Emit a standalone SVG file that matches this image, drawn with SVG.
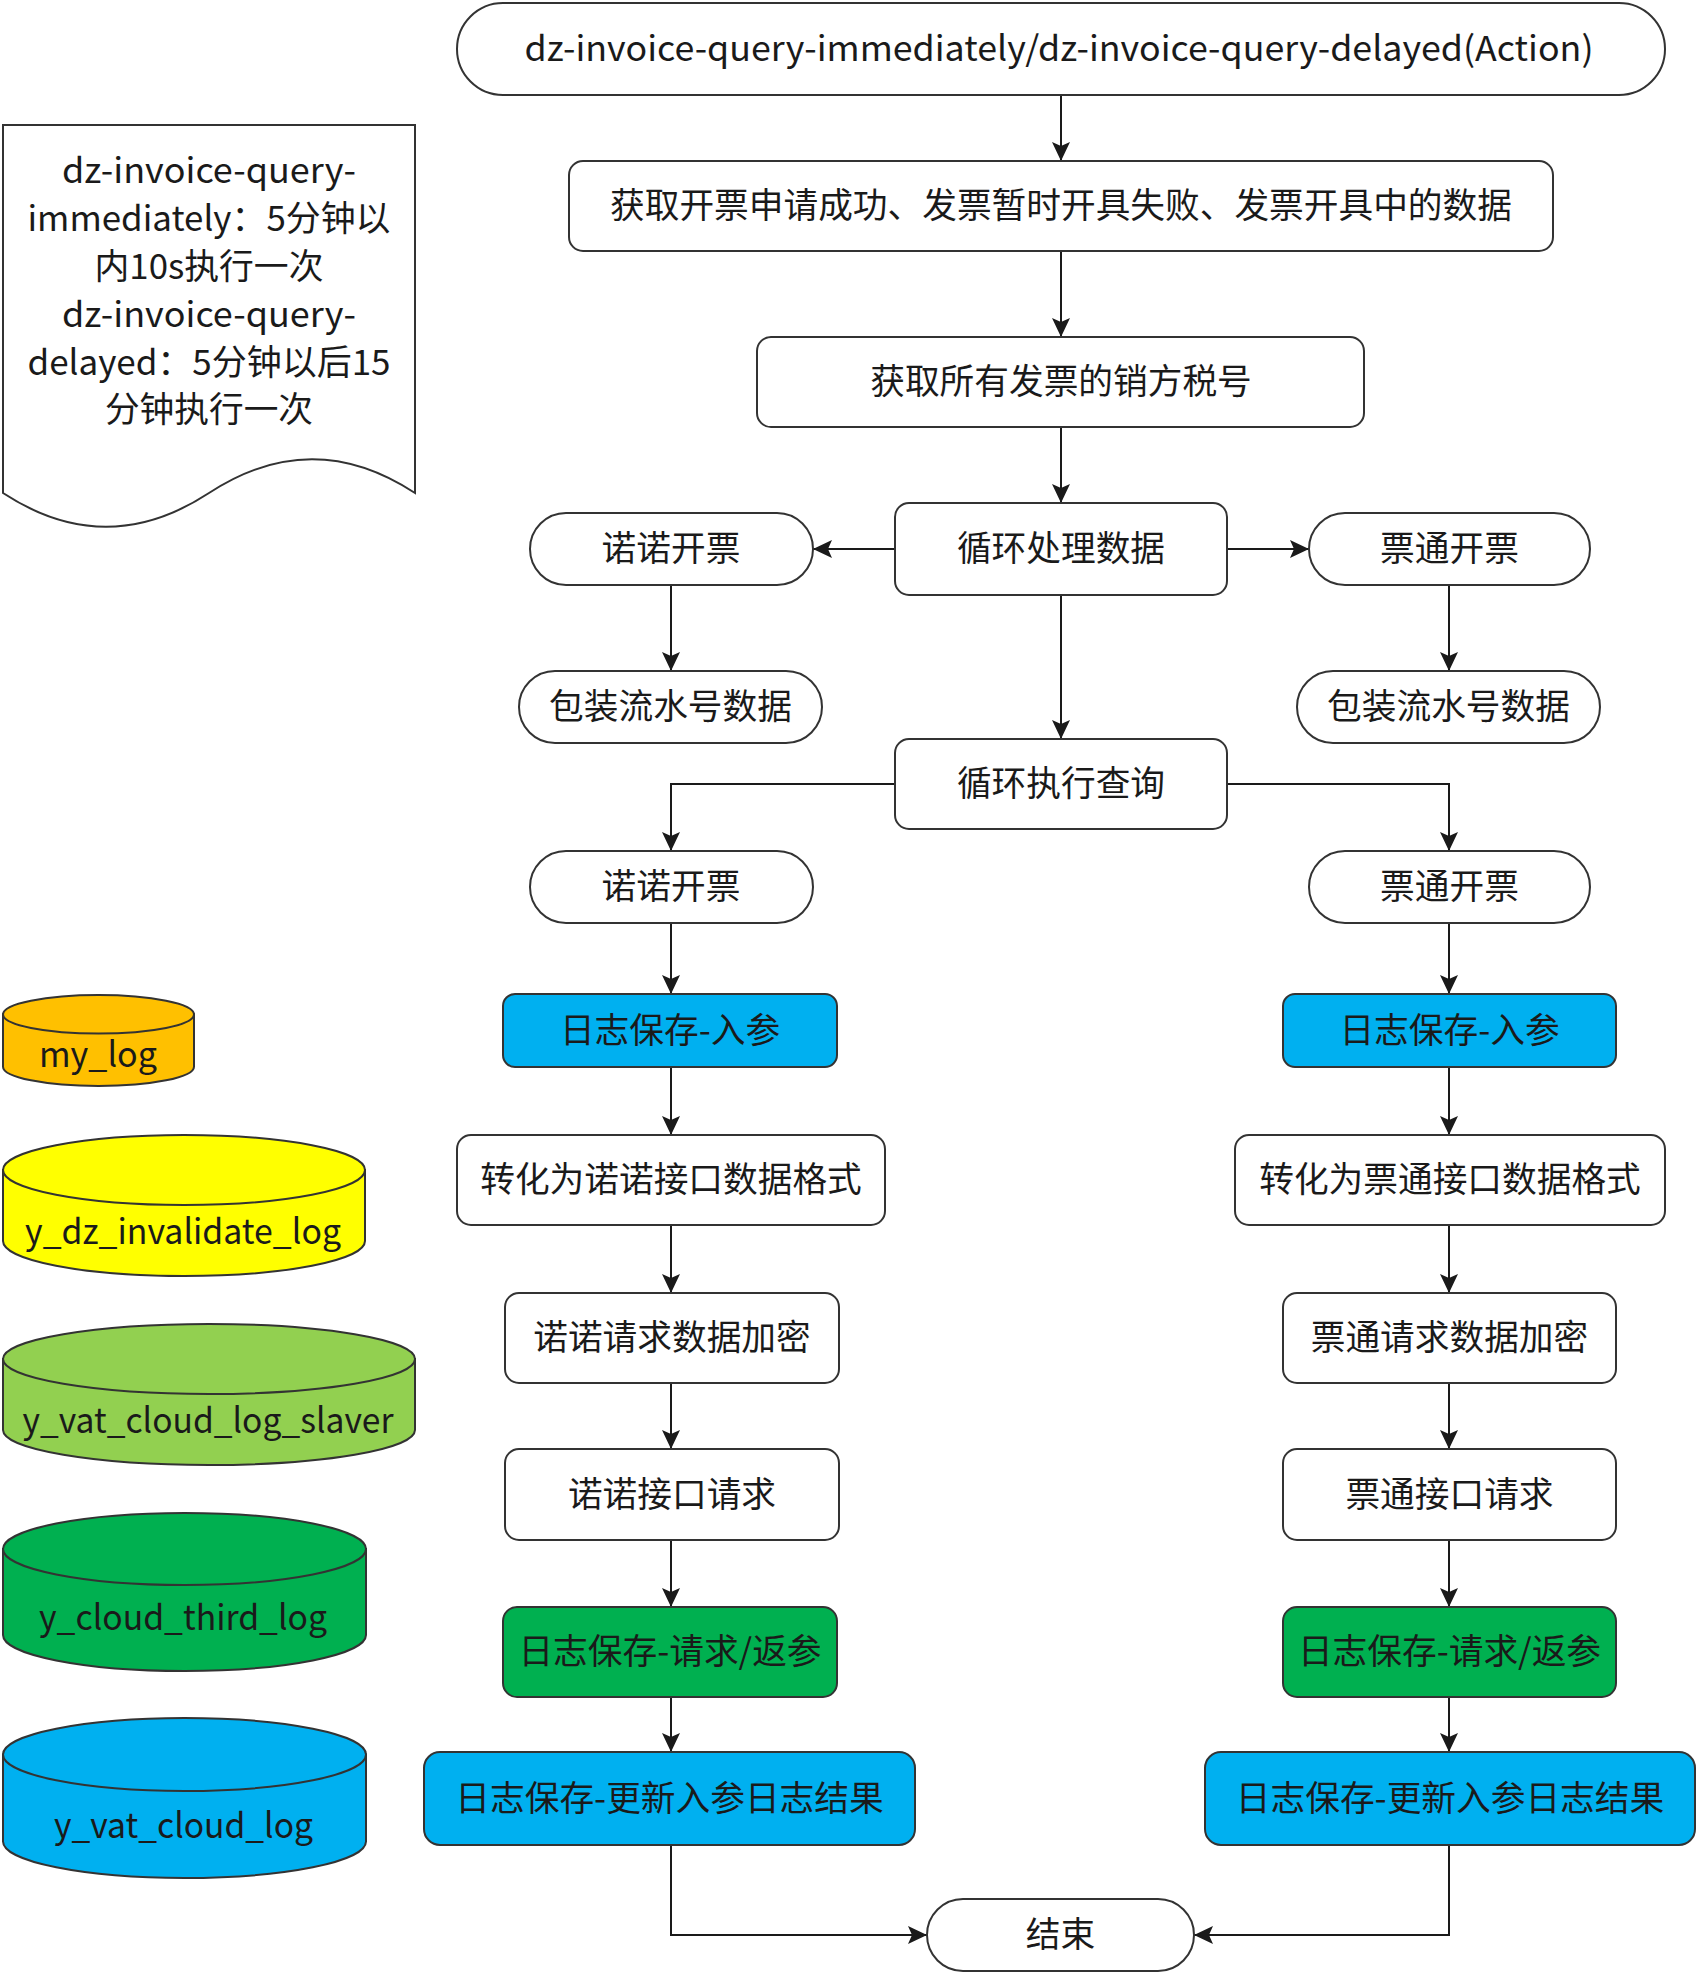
<svg xmlns="http://www.w3.org/2000/svg" width="1696" height="1974" viewBox="0 0 1696 1974">
<style>
text{font-family:"Noto Sans CJK SC","Noto Sans",sans-serif;font-size:34.7px;fill:#1a1a1a;text-anchor:middle}
.n{fill:#fff;stroke:#333;stroke-width:2}
.blue{fill:#00B0F0;stroke:#333;stroke-width:2}
.green{fill:#00B050;stroke:#333;stroke-width:2}
.c{fill:none;stroke:#1a1a1a;stroke-width:2}
</style>
<defs>
<marker id="a" markerUnits="userSpaceOnUse" markerWidth="20" markerHeight="18" refX="19" refY="9" orient="auto">
<path d="M0,0 L19,9 L0,18 L4,9 Z" fill="#1a1a1a"/>
</marker>
</defs>
<rect width="1696" height="1974" fill="#fff"/>

<g id="note">
<path d="M3,125 H415 V493 Q312,425.5 209,493 Q106,560.5 3,493 Z" class="n"/>
<text x="209" y="183" textLength="294" lengthAdjust="spacingAndGlyphs">dz-invoice-query-</text>
<text x="209" y="231" textLength="363" lengthAdjust="spacingAndGlyphs">immediately：5分钟以</text>
<text x="209" y="279" textLength="229" lengthAdjust="spacingAndGlyphs">内10s执行一次</text>
<text x="209" y="327" textLength="294" lengthAdjust="spacingAndGlyphs">dz-invoice-query-</text>
<text x="209" y="375" textLength="363" lengthAdjust="spacingAndGlyphs">delayed：5分钟以后15</text>
<text x="209" y="422">分钟执行一次</text>
</g>

<g id="db-my_log">
<path d="M3,1014.3 V1066.7 A95.5,19.3 0 0 0 194,1066.7 V1014.3 Z" fill="#FFC000" stroke="#333" stroke-width="2"/>
<ellipse cx="98.5" cy="1014.3" rx="95.5" ry="19.3" fill="#FFC000" stroke="#333" stroke-width="2"/>
<text x="98" y="1067" textLength="118" lengthAdjust="spacingAndGlyphs">my_log</text>
</g>
<g id="db-y_dz_invalidate_log">
<path d="M3,1170 V1241 A181,35 0 0 0 365,1241 V1170 Z" fill="#FFFF00" stroke="#333" stroke-width="2"/>
<ellipse cx="184" cy="1170" rx="181" ry="35" fill="#FFFF00" stroke="#333" stroke-width="2"/>
<text x="183" y="1244" textLength="316" lengthAdjust="spacingAndGlyphs">y_dz_invalidate_log</text>
</g>
<g id="db-y_vat_cloud_log_slaver">
<path d="M3,1359 V1430 A206,35 0 0 0 415,1430 V1359 Z" fill="#92D050" stroke="#333" stroke-width="2"/>
<ellipse cx="209" cy="1359" rx="206" ry="35" fill="#92D050" stroke="#333" stroke-width="2"/>
<text x="208" y="1433" textLength="371" lengthAdjust="spacingAndGlyphs">y_vat_cloud_log_slaver</text>
</g>
<g id="db-y_cloud_third_log">
<path d="M3,1549 V1635 A181.5,36 0 0 0 366,1635 V1549 Z" fill="#00B050" stroke="#333" stroke-width="2"/>
<ellipse cx="184.5" cy="1549" rx="181.5" ry="36" fill="#00B050" stroke="#333" stroke-width="2"/>
<text x="183" y="1630" textLength="288" lengthAdjust="spacingAndGlyphs">y_cloud_third_log</text>
</g>
<g id="db-y_vat_cloud_log">
<path d="M3,1754.5 V1841.5 A181.5,36.5 0 0 0 366,1841.5 V1754.5 Z" fill="#00B0F0" stroke="#333" stroke-width="2"/>
<ellipse cx="184.5" cy="1754.5" rx="181.5" ry="36.5" fill="#00B0F0" stroke="#333" stroke-width="2"/>
<text x="183.5" y="1838" textLength="259" lengthAdjust="spacingAndGlyphs">y_vat_cloud_log</text>
</g>

<g id="connectors">
<path class="c" marker-end="url(#a)" d="M1061,95 V161"/>
<path class="c" marker-end="url(#a)" d="M1061,251 V337"/>
<path class="c" marker-end="url(#a)" d="M1061,427 V503"/>
<path class="c" marker-end="url(#a)" d="M895,549 H813"/>
<path class="c" marker-end="url(#a)" d="M1227,549 H1309"/>
<path class="c" marker-end="url(#a)" d="M671,585 V671"/>
<path class="c" marker-end="url(#a)" d="M1449,585 V671"/>
<path class="c" marker-end="url(#a)" d="M1061,595 V739"/>
<path class="c" marker-end="url(#a)" d="M895,784 H671 V851"/>
<path class="c" marker-end="url(#a)" d="M1227,784 H1449 V851"/>
<path class="c" marker-end="url(#a)" d="M671,923 V994"/>
<path class="c" marker-end="url(#a)" d="M1449,923 V994"/>
<path class="c" marker-end="url(#a)" d="M671,1067 V1135"/>
<path class="c" marker-end="url(#a)" d="M1449,1067 V1135"/>
<path class="c" marker-end="url(#a)" d="M671,1225 V1293"/>
<path class="c" marker-end="url(#a)" d="M1449,1225 V1293"/>
<path class="c" marker-end="url(#a)" d="M671,1383 V1449"/>
<path class="c" marker-end="url(#a)" d="M1449,1383 V1449"/>
<path class="c" marker-end="url(#a)" d="M671,1540 V1607"/>
<path class="c" marker-end="url(#a)" d="M1449,1540 V1607"/>
<path class="c" marker-end="url(#a)" d="M671,1697 V1752"/>
<path class="c" marker-end="url(#a)" d="M1449,1697 V1752"/>
<path class="c" marker-end="url(#a)" d="M671,1845 V1935 H927"/>
<path class="c" marker-end="url(#a)" d="M1449,1845 V1935 H1194"/>
</g>

<g id="start">
<rect x="457" y="3" width="1208" height="92" rx="46" class="n"/>
<text x="1059" y="61" textLength="1069" lengthAdjust="spacingAndGlyphs">dz-invoice-query-immediately/dz-invoice-query-delayed(Action)</text>
</g>
<g id="fetch-data">
<rect x="569" y="161" width="984" height="90" rx="14" class="n"/>
<text x="1061" y="218">获取开票申请成功、发票暂时开具失败、发票开具中的数据</text>
</g>
<g id="fetch-tax">
<rect x="757" y="337" width="607" height="90" rx="14" class="n"/>
<text x="1061" y="394">获取所有发票的销方税号</text>
</g>
<g id="loop-process">
<rect x="895" y="503" width="332" height="92" rx="14" class="n"/>
<text x="1061" y="561">循环处理数据</text>
</g>
<g id="nuonuo-1">
<rect x="530" y="513" width="283" height="72" rx="36" class="n"/>
<text x="671" y="561">诺诺开票</text>
</g>
<g id="piaotong-1">
<rect x="1309" y="513" width="281" height="72" rx="36" class="n"/>
<text x="1449.5" y="561">票通开票</text>
</g>
<g id="nuonuo-pack">
<rect x="519" y="671" width="303" height="72" rx="36" class="n"/>
<text x="670.5" y="719">包装流水号数据</text>
</g>
<g id="piaotong-pack">
<rect x="1297" y="671" width="303" height="72" rx="36" class="n"/>
<text x="1448.5" y="719">包装流水号数据</text>
</g>
<g id="loop-query">
<rect x="895" y="739" width="332" height="90" rx="14" class="n"/>
<text x="1061" y="796">循环执行查询</text>
</g>
<g id="nuonuo-2">
<rect x="530" y="851" width="283" height="72" rx="36" class="n"/>
<text x="671" y="899">诺诺开票</text>
</g>
<g id="piaotong-2">
<rect x="1309" y="851" width="281" height="72" rx="36" class="n"/>
<text x="1449.5" y="899">票通开票</text>
</g>
<g id="nuonuo-log-in">
<rect x="503" y="994" width="334" height="73" rx="12" class="blue"/>
<text x="670" y="1042.5">日志保存-入参</text>
</g>
<g id="piaotong-log-in">
<rect x="1283" y="994" width="333" height="73" rx="12" class="blue"/>
<text x="1449.5" y="1042.5">日志保存-入参</text>
</g>
<g id="nuonuo-convert">
<rect x="457" y="1135" width="428" height="90" rx="14" class="n"/>
<text x="671" y="1192">转化为诺诺接口数据格式</text>
</g>
<g id="piaotong-convert">
<rect x="1235" y="1135" width="430" height="90" rx="14" class="n"/>
<text x="1450" y="1192">转化为票通接口数据格式</text>
</g>
<g id="nuonuo-encrypt">
<rect x="505" y="1293" width="334" height="90" rx="14" class="n"/>
<text x="672" y="1350">诺诺请求数据加密</text>
</g>
<g id="piaotong-encrypt">
<rect x="1283" y="1293" width="333" height="90" rx="14" class="n"/>
<text x="1449.5" y="1350">票通请求数据加密</text>
</g>
<g id="nuonuo-request">
<rect x="505" y="1449" width="334" height="91" rx="14" class="n"/>
<text x="672" y="1506.5">诺诺接口请求</text>
</g>
<g id="piaotong-request">
<rect x="1283" y="1449" width="333" height="91" rx="14" class="n"/>
<text x="1449.5" y="1506.5">票通接口请求</text>
</g>
<g id="nuonuo-log-resp">
<rect x="503" y="1607" width="334" height="90" rx="14" class="green"/>
<text x="670" y="1664">日志保存-请求/返参</text>
</g>
<g id="piaotong-log-resp">
<rect x="1283" y="1607" width="333" height="90" rx="14" class="green"/>
<text x="1449.5" y="1664">日志保存-请求/返参</text>
</g>
<g id="nuonuo-log-update">
<rect x="424" y="1752" width="491" height="93" rx="16" class="blue"/>
<text x="669.5" y="1810.5">日志保存-更新入参日志结果</text>
</g>
<g id="piaotong-log-update">
<rect x="1205" y="1752" width="490" height="93" rx="16" class="blue"/>
<text x="1450" y="1810.5">日志保存-更新入参日志结果</text>
</g>
<g id="end">
<rect x="927" y="1899" width="267" height="72" rx="36" class="n"/>
<text x="1060.5" y="1947">结束</text>
</g>
</svg>
